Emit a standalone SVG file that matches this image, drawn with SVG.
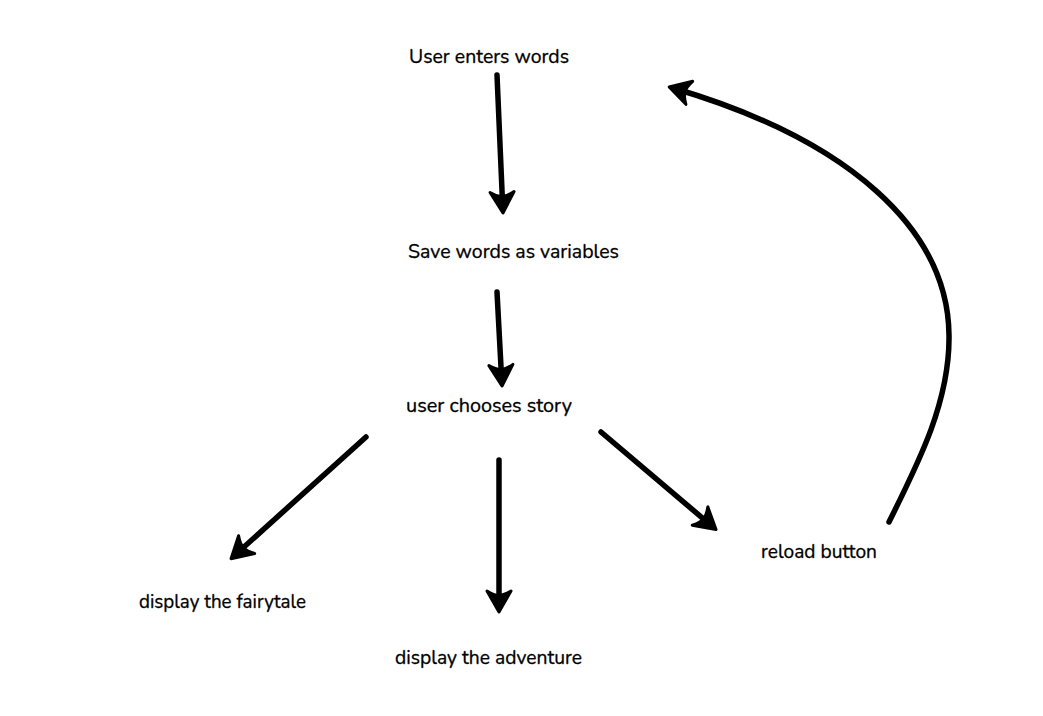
<svg xmlns="http://www.w3.org/2000/svg" width="1043" height="716" viewBox="0 0 1043 716">
<style>
  .lbl { font-family: "Nunito", "Open Sans", "Liberation Sans", sans-serif; font-size: 19px; fill: #000; stroke: #000; stroke-width: 0.3; text-anchor: middle; }
  .con { fill: none; stroke: #000; stroke-width: 5.5; stroke-linecap: round; stroke-linejoin: round; }
</style>
<defs>
  <marker id="ah" markerUnits="userSpaceOnUse" viewBox="-26 -16 34 32" refX="0" refY="0" markerWidth="34" markerHeight="32" orient="auto">
    <path d="M4,0 L-17,-12 Q-12,-4 -13,0 Q-12,4 -17,12 Z" fill="#000" stroke="#000" stroke-width="3" stroke-linejoin="round"/>
  </marker>
</defs>
<rect width="1043" height="716" fill="#fff"/>
<g id="connectors">
  <path class="con" d="M497,75 L502.8,209" marker-end="url(#ah)"/>
  <path class="con" d="M497,292 L501.8,382" marker-end="url(#ah)"/>
  <path class="con" d="M366,437 L234,556" marker-end="url(#ah)"/>
  <path class="con" d="M499,460 L499,608" marker-end="url(#ah)"/>
  <path class="con" d="M601,432 L713,527" marker-end="url(#ah)"/>
  <path class="con" d="M889,522 C920,460 950,400 949,335 C948,230 850,140 673,88" marker-end="url(#ah)"/>
</g>
<g id="node-user-enters"><text class="lbl" x="489" y="63" textLength="160" lengthAdjust="spacingAndGlyphs">User enters words</text></g>
<g id="node-save-words"><text class="lbl" x="513.5" y="258" textLength="211" lengthAdjust="spacingAndGlyphs">Save words as variables</text></g>
<g id="node-chooses-story"><text class="lbl" x="489" y="412" textLength="166" lengthAdjust="spacingAndGlyphs">user chooses story</text></g>
<g id="node-fairytale"><text class="lbl" x="222.5" y="608" textLength="167" lengthAdjust="spacingAndGlyphs">display the fairytale</text></g>
<g id="node-adventure"><text class="lbl" x="488.5" y="664" textLength="187" lengthAdjust="spacingAndGlyphs">display the adventure</text></g>
<g id="node-reload"><text class="lbl" x="819" y="558" textLength="116" lengthAdjust="spacingAndGlyphs">reload button</text></g>
</svg>
